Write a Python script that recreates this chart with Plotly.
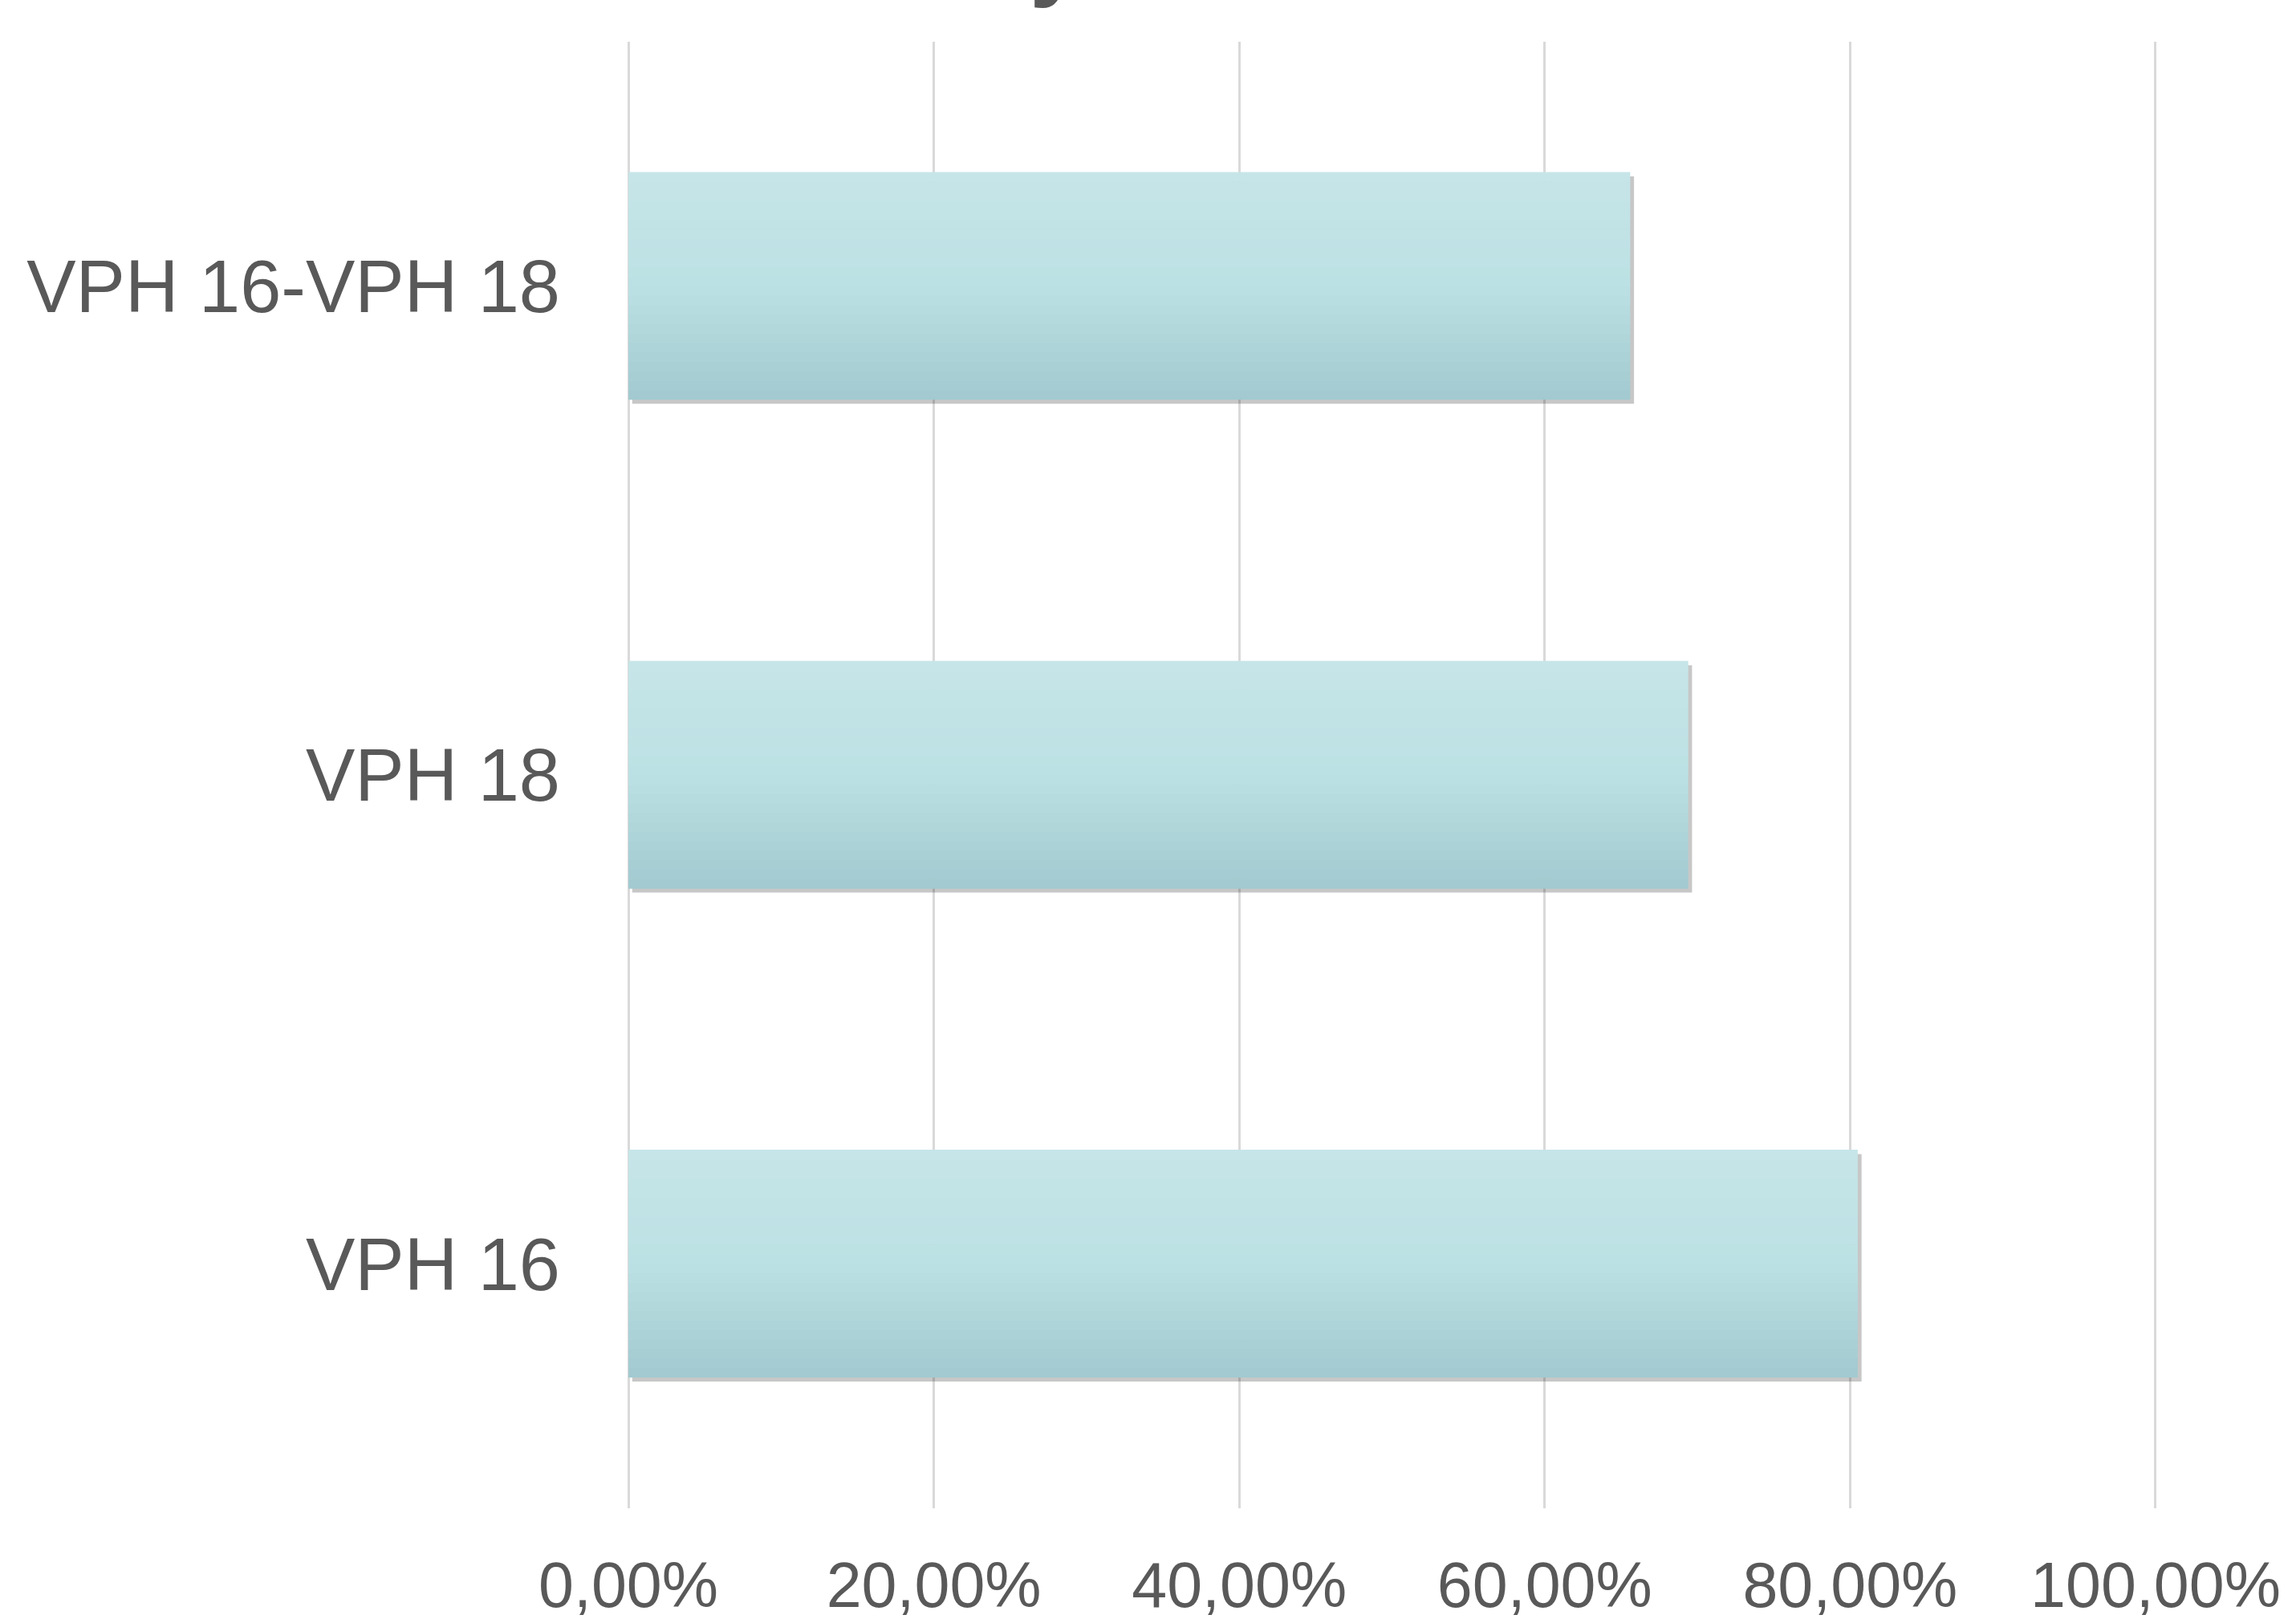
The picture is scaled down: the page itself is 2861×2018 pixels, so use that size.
import plotly.graph_objects as go

# ---- data ----
categories = ["VPH 16", "VPH 18", "VPH 16-VPH 18"]
values = [0.805, 0.694, 0.656]
x_tickvals = [0.0, 0.2, 0.4, 0.6, 0.8, 1.0]

TEXT = "#595959"
FONT = "Liberation Sans, Arial, Helvetica, sans-serif"
BAR_W = 0.465
N_BANDS = 24

stops = [(0.0, (198, 229, 232)), (0.5, (188, 225, 228)), (1.0, (161, 201, 207))]


def grad(t):
    for (t0, c0), (t1, c1) in zip(stops[:-1], stops[1:]):
        if t0 <= t <= t1:
            f = (t - t0) / (t1 - t0)
            c = [round(a + (b - a) * f) for a, b in zip(c0, c1)]
            return "rgb(%d,%d,%d)" % tuple(c)
    return "rgb(%d,%d,%d)" % stops[-1][1]


fig = go.Figure()

# soft shadow behind bars
fig.add_trace(go.Bar(
    y=categories, x=values, base=[0.0025] * len(values), orientation="h",
    width=BAR_W, offset=-BAR_W / 2 - 0.008,
    marker=dict(color="rgba(0,0,0,0.22)", line=dict(width=0)),
    hoverinfo="skip", showlegend=False,
))

# gradient bars built from horizontal bands
band = BAR_W / N_BANDS
for i in range(N_BANDS):
    t = 1 - (i + 0.5) / N_BANDS  # 0 = top, 1 = bottom
    fig.add_trace(go.Bar(
        y=categories, x=values, orientation="h",
        width=band * 1.05, offset=-BAR_W / 2 + i * band,
        marker=dict(color=grad(t), line=dict(width=0)),
        hoverinfo="skip", showlegend=False,
    ))

# title (cut off at the top of the image)
fig.add_annotation(
    text="<b>y</b>", xref="paper", yref="paper", x=0.281, y=1.0,
    xanchor="center", yanchor="bottom", yshift=40, showarrow=False,
    font=dict(family=FONT, size=120, color=TEXT),
)

fig.update_layout(
    width=2861, height=2018,
    margin=dict(l=780, r=172, t=52, b=138),
    paper_bgcolor="white", plot_bgcolor="white",
    barmode="overlay", showlegend=False,
    separators=",.",
    font=dict(family=FONT, color=TEXT),
    xaxis=dict(
        range=[-0.0016, 1.0016], tickvals=x_tickvals, tickformat=".2%",
        showgrid=True, gridcolor="#d9d9d9", gridwidth=3,
        zeroline=False, showline=False, ticks="", automargin=False,
        tickfont=dict(family=FONT, size=79, color=TEXT),
        ticklabelstandoff=43,
    ),
    yaxis=dict(
        categoryorder="array", categoryarray=categories,
        range=[-0.5, 2.5], automargin=False,
        showgrid=False, zeroline=False, showline=False, ticks="",
        tickfont=dict(family=FONT, size=92, color=TEXT),
        ticklabelstandoff=81,
    ),
)

fig.write_html("out.html")
